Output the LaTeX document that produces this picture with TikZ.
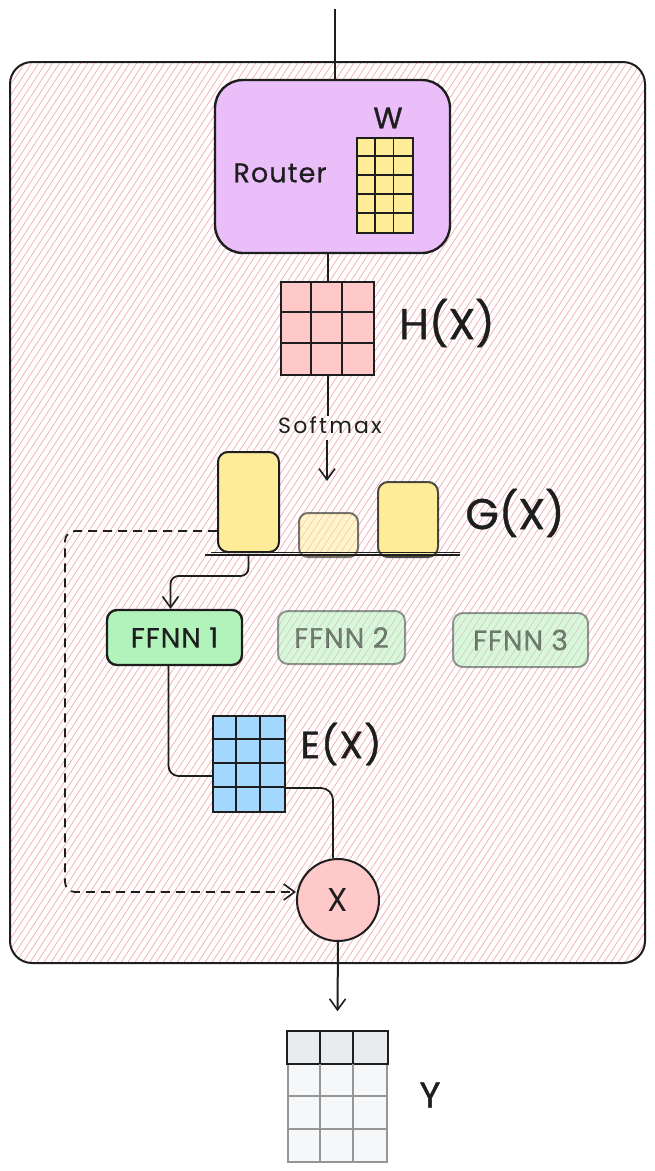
\documentclass[tikz,border=0pt]{standalone}
\usepackage{fontspec}
\setmainfont{Poppins}
\usetikzlibrary{arrows.meta}
\definecolor{hatchc}{RGB}{244,170,178}
\definecolor{violetf}{RGB}{234,190,248}
\definecolor{yellowf}{RGB}{255,236,153}
\definecolor{pinkf}{RGB}{255,201,201}
\definecolor{greenf}{RGB}{178,242,187}
\definecolor{bluef}{RGB}{165,216,255}
\definecolor{headf}{RGB}{233,236,239}
\definecolor{rowf}{RGB}{246,247,249}
\definecolor{greyl}{RGB}{150,150,150}
\definecolor{ink}{RGB}{30,30,30}
\begin{document}
\begin{tikzpicture}[x=1pt,y=-1pt,
  hatch/.style={draw=hatchc,line width=0.7pt},
  box/.style={draw=ink,line width=2pt,inner sep=0pt},
  cell/.style={draw=ink,line width=1.6pt,inner sep=0pt},
  gline/.style={draw=ink,line width=1.6pt},
  conn/.style={draw=ink,line width=1.8pt},
  tip/.style={-{Straight Barb[length=11pt,width=16pt,line width=1.6pt]}},
  lbl/.style={text=ink,inner sep=0pt},
  faded/.style={draw opacity=0.45,fill opacity=0.5,text opacity=0.55}]
\useasboundingbox (0,0) rectangle (654,1171);
% hatched background of the outer block
\begin{scope}
  \clip[rounded corners=22pt] (10,62) rectangle (645,963);
  \foreach \i in {-640,-633,...,650} \draw[hatch] (\i,970) -- ++(600,-915);
\end{scope}
\node[box,rounded corners=22pt,minimum width=635pt,minimum height=901pt] (moe) at (327.5,512.5) {};
% router
\node[box,line width=2.4pt,fill=violetf,rounded corners=28pt,minimum width=235pt,minimum height=173pt] (router) at (332.5,166.5) {};
\node[lbl,font=\fontsize{27}{29}\selectfont\addfontfeature{LetterSpace=4,FakeBold=0.6}] (routerlbl) at (280,173) {Router};
\node[lbl,font=\fontsize{30}{32}\selectfont\addfontfeature{FakeBold=1}] (wlbl) at (388,118) {W};
\node[cell,fill=yellowf,minimum width=56pt,minimum height=95pt] (Wg) at (385,185.5) {};
\foreach \i in {1,2} \draw[gline] ([xshift={\i*18.667pt}]Wg.north west) -- ([xshift={\i*18.667pt}]Wg.south west);
\foreach \i in {1,...,4} \draw[gline] ([yshift={-\i*19pt}]Wg.north west) -- ([yshift={-\i*19pt}]Wg.north east);
\coordinate (in) at (335,9);
\draw[conn] (in) -- (in |- router.north);
% H(X)
\node[cell,fill=pinkf,minimum width=93pt,minimum height=93pt] (H) at (327.5,328.5) {};
\foreach \i in {1,2} \draw[gline] ([xshift={\i*31pt}]H.north west) -- ([xshift={\i*31pt}]H.south west);
\foreach \i in {1,2} \draw[gline] ([yshift={-\i*31pt}]H.north west) -- ([yshift={-\i*31pt}]H.north east);
\node[lbl,font=\fontsize{43}{45}\selectfont\addfontfeature{FakeBold=1}] (hlbl) at (447,323) {H(X)};
\draw[conn] ([xshift=0.5pt]router.south -| H.north) -- ([xshift=0.5pt]H.north);
% softmax
\node[lbl,font=\fontsize{22}{24}\selectfont\addfontfeature{LetterSpace=10}] (soft) at (330,425) {Softmax};
\draw[conn] ([xshift=0.5pt]H.south) -- ([xshift=0.5pt]soft.north -| H.south);
\coordinate (gtop) at (327,481);
\draw[conn,tip] ([yshift=-6pt]soft.south -| gtop) -- (gtop);
% G(X) bars
\node[box,fill=yellowf,rounded corners=10pt,minimum width=61pt,minimum height=100pt] (bar1) at (248.5,502) {};
\node[box,faded,draw opacity=0.6,fill=yellowf,rounded corners=9pt,minimum width=59pt,minimum height=44pt] (bar2) at (328.5,535) {};
\node[box,fill=yellowf,draw opacity=0.8,rounded corners=10pt,minimum width=60pt,minimum height=75pt] (bar3) at (408,519.5) {};
\coordinate (bl) at (205,555);
\coordinate (br) at (460,555);
\draw[conn] (bl) -- (br);
\draw[conn] ([yshift=2.5pt,xshift=6pt]bl) -- ([yshift=2.5pt]br);
\node[lbl,font=\fontsize{43}{45}\selectfont\addfontfeature{FakeBold=1}] (glbl) at (515,513) {G(X)};
% experts
\tikzset{ffnn/.style={rounded corners=10pt,fill=greenf,text=ink,font=\fontsize{28}{30}\selectfont\addfontfeature{LetterSpace=3,FakeBold=0.5}}}
\node[box,ffnn,line width=2.4pt,minimum width=135pt,minimum height=55pt] (f1) at (174.5,637.5) {FFNN 1};
\node[box,ffnn,faded,minimum width=127pt,minimum height=53pt] (f2) at (341.5,637.5) {FFNN 2};
\node[box,ffnn,faded,minimum width=135pt,minimum height=54pt] (f3) at (520.5,640) {FFNN 3};
\draw[conn,tip,rounded corners=8pt] ([yshift=-3pt]bar1.south) -- ++(0,20) -| ([xshift=-4pt]f1.north);
% E(X)
\node[cell,fill=bluef,minimum width=72pt,minimum height=96pt] (E) at (249,764) {};
\foreach \i in {1,2} \draw[gline] ([xshift={\i*24pt}]E.north west) -- ([xshift={\i*24pt}]E.south west);
\foreach \i in {1,2,3} \draw[gline] ([yshift={-\i*24pt}]E.north west) -- ([yshift={-\i*24pt}]E.north east);
\node[lbl,font=\fontsize{38}{40}\selectfont\addfontfeature{LetterSpace=3,FakeBold=1}] (elbl) at (341,744) {E(X)};
\draw[conn,rounded corners=10pt] ([xshift=-6pt]f1.south) |- ([yshift=-12pt]E.west);
% multiply
\node[box,fill=pinkf,circle,minimum size=82pt,font=\fontsize{33}{35}\selectfont,text=ink] (mult) at (338,900) {X};
\draw[conn,rounded corners=12pt] ([yshift=-24pt]E.east) -| ([xshift=-5pt]mult.north);
\coordinate (dl) at (65,700);
\draw[conn,dashed,dash pattern=on 9pt off 6pt,tip,rounded corners=10pt] ([yshift=-29pt]bar1.west) -| (dl) |- ([yshift=8pt]mult.west);
% output
\node[draw=greyl,line width=1.6pt,fill=rowf,inner sep=0pt,minimum width=99pt,minimum height=130pt] (Y) at (337.5,1097) {};
\draw[draw=ink,line width=1.8pt,fill=headf] (Y.north west) rectangle ([yshift=-32.5pt]Y.north east);
\foreach \i in {1,2} \draw[draw=greyl,line width=1.6pt] ([xshift={\i*33pt},yshift=-32.5pt]Y.north west) -- ([xshift={\i*33pt}]Y.south west);
\foreach \i in {2,3} \draw[draw=greyl,line width=1.6pt] ([yshift={-\i*32.5pt}]Y.north west) -- ([yshift={-\i*32.5pt}]Y.north east);
\foreach \i in {1,2} \draw[gline,line width=1.8pt] ([xshift={\i*33pt}]Y.north west) -- ([xshift={\i*33pt},yshift=-32.5pt]Y.north west);
\node[lbl,font=\fontsize{36}{38}\selectfont\addfontfeature{FakeBold=1}] (ylbl) at (430,1095) {Y};
\draw[conn,line width=2pt,tip] (mult.south) -- ([yshift=20pt]Y.north);
\end{tikzpicture}
\end{document}
